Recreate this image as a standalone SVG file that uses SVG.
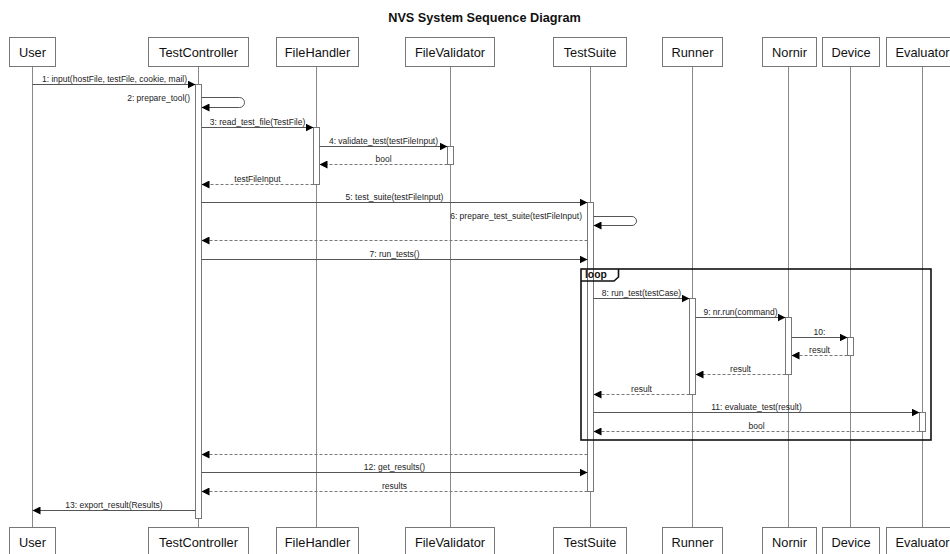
<svg xmlns="http://www.w3.org/2000/svg" width="950" height="554" viewBox="0 0 950 554">
  <style>
    .bg { fill: #ffffff; }
    .title { font-family: "Liberation Sans", Arial, sans-serif; font-size: 12.7px; font-weight: bold; fill: #111; }
    .box { fill: #ffffff; stroke: #777; stroke-width: 1; }
    .pname { font-family: "Liberation Sans", Arial, sans-serif; font-size: 12.8px; fill: #111; text-anchor: middle; }
    .life { stroke: #888; stroke-width: 1; fill: none; }
    .bar { fill: #ffffff; stroke: #777; stroke-width: 1; }
    .msg { stroke: #555; stroke-width: 1; fill: none; marker-end: url(#head); }
    .ret { stroke: #777; stroke-width: 1; fill: none; stroke-dasharray: 3,2; marker-end: url(#head); }
    .lbl { font-family: "Liberation Sans", Arial, sans-serif; font-size: 8.5px; fill: #222; text-anchor: middle; }
    .lbl-end { font-family: "Liberation Sans", Arial, sans-serif; font-size: 8.5px; fill: #222; text-anchor: end; }
    .frame { fill: none; stroke: #111; stroke-width: 1.6; }
    .frame-tag { font-family: "Liberation Sans", Arial, sans-serif; font-size: 10.3px; font-weight: bold; fill: #111; }
  </style>
  <defs>
    <marker id="head" viewBox="0 0 8 8" refX="8" refY="4" markerWidth="8" markerHeight="8" markerUnits="userSpaceOnUse" orient="auto">
      <path d="M0,0 L8,4 L0,8 z" fill="#000"/>
    </marker>
  </defs>

  <rect class="bg" x="0" y="0" width="950" height="554"/>
  <text class="title" x="484.5" y="22" text-anchor="middle">NVS System Sequence Diagram</text>

  <!-- lifelines -->
  <g id="lifelines">
    <line class="life" x1="32.5" y1="66" x2="32.5" y2="527"/>
    <line class="life" x1="198.5" y1="66" x2="198.5" y2="527"/>
    <line class="life" x1="316.5" y1="66" x2="316.5" y2="527"/>
    <line class="life" x1="450.5" y1="66" x2="450.5" y2="527"/>
    <line class="life" x1="590.5" y1="66" x2="590.5" y2="527"/>
    <line class="life" x1="692.5" y1="66" x2="692.5" y2="527"/>
    <line class="life" x1="788.5" y1="66" x2="788.5" y2="527"/>
    <line class="life" x1="850.5" y1="66" x2="850.5" y2="527"/>
    <line class="life" x1="922.5" y1="66" x2="922.5" y2="527"/>
  </g>

  <!-- participants -->
  <g id="user">
    <rect class="box" x="9.5" y="37.5" width="46" height="29"/>
    <text class="pname" x="32.5" y="56.5">User</text>
    <rect class="box" x="9.5" y="527.5" width="46" height="29"/>
    <text class="pname" x="32.5" y="546.5">User</text>
  </g>
  <g id="testcontroller">
    <rect class="box" x="148.5" y="37.5" width="100" height="29"/>
    <text class="pname" x="198.5" y="56.5">TestController</text>
    <rect class="box" x="148.5" y="527.5" width="100" height="29"/>
    <text class="pname" x="198.5" y="546.5">TestController</text>
    <rect class="bar" x="195.5" y="84.5" width="6" height="434"/>
  </g>
  <g id="filehandler">
    <rect class="box" x="276.5" y="37.5" width="82" height="29"/>
    <text class="pname" x="317.5" y="56.5">FileHandler</text>
    <rect class="box" x="276.5" y="527.5" width="82" height="29"/>
    <text class="pname" x="317.5" y="546.5">FileHandler</text>
    <rect class="bar" x="313.5" y="127.5" width="6" height="57"/>
  </g>
  <g id="filevalidator">
    <rect class="box" x="405.5" y="37.5" width="89" height="29"/>
    <text class="pname" x="450" y="56.5">FileValidator</text>
    <rect class="box" x="405.5" y="527.5" width="89" height="29"/>
    <text class="pname" x="450" y="546.5">FileValidator</text>
    <rect class="bar" x="447.5" y="146.5" width="6" height="18"/>
  </g>
  <g id="testsuite">
    <rect class="box" x="553.5" y="37.5" width="73" height="29"/>
    <text class="pname" x="590" y="56.5">TestSuite</text>
    <rect class="box" x="553.5" y="527.5" width="73" height="29"/>
    <text class="pname" x="590" y="546.5">TestSuite</text>
    <rect class="bar" x="587.5" y="202.5" width="6" height="289"/>
  </g>
  <g id="runner">
    <rect class="box" x="662.5" y="37.5" width="60" height="29"/>
    <text class="pname" x="692.5" y="56.5">Runner</text>
    <rect class="box" x="662.5" y="527.5" width="60" height="29"/>
    <text class="pname" x="692.5" y="546.5">Runner</text>
    <rect class="bar" x="689.5" y="298.5" width="6" height="96"/>
  </g>
  <g id="nornir">
    <rect class="box" x="762.5" y="37.5" width="54" height="29"/>
    <text class="pname" x="789.5" y="56.5">Nornir</text>
    <rect class="box" x="762.5" y="527.5" width="54" height="29"/>
    <text class="pname" x="789.5" y="546.5">Nornir</text>
    <rect class="bar" x="785.5" y="317.5" width="6" height="57"/>
  </g>
  <g id="device">
    <rect class="box" x="822.5" y="37.5" width="57" height="29"/>
    <text class="pname" x="851" y="56.5">Device</text>
    <rect class="box" x="822.5" y="527.5" width="57" height="29"/>
    <text class="pname" x="851" y="546.5">Device</text>
    <rect class="bar" x="847.5" y="337.5" width="6" height="18"/>
  </g>
  <g id="evaluator">
    <rect class="box" x="886.5" y="37.5" width="72" height="29"/>
    <text class="pname" x="922.5" y="56.5">Evaluator</text>
    <rect class="box" x="886.5" y="527.5" width="72" height="29"/>
    <text class="pname" x="922.5" y="546.5">Evaluator</text>
    <rect class="bar" x="919.5" y="412.5" width="6" height="19"/>
  </g>

  <!-- loop fragment -->
  <g id="loop-frame">
    <rect class="frame" x="581" y="269" width="350" height="171"/>
    <path class="frame" d="M581,281 H614 L618.5,277 V269"/>
    <text class="frame-tag" x="585" y="277.5">loop</text>
  </g>

  <!-- messages -->
  <g id="connectors">
    <line class="msg" x1="32.5" y1="84.5" x2="195.5" y2="84.5"/>
    <text class="lbl" x="114.5" y="81.5">1: input(hostFile, testFile, cookie, mail)</text>

    <path class="msg" d="M201.5,97.5 H239.5 A5,5 0 0 1 239.5,107.5 H201.5"/>
    <text class="lbl-end" x="190" y="100.5">2: prepare_tool()</text>

    <line class="msg" x1="201.5" y1="127.5" x2="313.5" y2="127.5"/>
    <text class="lbl" x="257.5" y="124.5">3: read_test_file(TestFile)</text>

    <line class="msg" x1="319.5" y1="146.5" x2="447.5" y2="146.5"/>
    <text class="lbl" x="383.5" y="143.5">4: validate_test(testFileInput)</text>

    <line class="ret" x1="447.5" y1="164.5" x2="319.5" y2="164.5"/>
    <text class="lbl" x="383.5" y="161.5">bool</text>

    <line class="ret" x1="313.5" y1="184.5" x2="201.5" y2="184.5"/>
    <text class="lbl" x="257.5" y="181.5">testFileInput</text>

    <line class="msg" x1="201.5" y1="202.5" x2="587.5" y2="202.5"/>
    <text class="lbl" x="394.5" y="199.5">5: test_suite(testFileInput)</text>

    <path class="msg" d="M593.5,216.5 H632 A4.5,4.5 0 0 1 632,225.5 H593.5"/>
    <text class="lbl-end" x="582" y="219">6: prepare_test_suite(testFileInput)</text>

    <line class="ret" x1="587.5" y1="240.5" x2="201.5" y2="240.5"/>

    <line class="msg" x1="201.5" y1="259.5" x2="587.5" y2="259.5"/>
    <text class="lbl" x="394.5" y="256.5">7: run_tests()</text>

    <line class="msg" x1="593.5" y1="298.5" x2="689.5" y2="298.5"/>
    <text class="lbl" x="641.5" y="295.5">8: run_test(testCase)</text>

    <line class="msg" x1="695.5" y1="317.5" x2="785.5" y2="317.5"/>
    <text class="lbl" x="740.5" y="314.5">9: nr.run(command)</text>

    <line class="msg" x1="791.5" y1="337.5" x2="847.5" y2="337.5"/>
    <text class="lbl" x="819.5" y="334.5">10:</text>

    <line class="ret" x1="847.5" y1="355.5" x2="791.5" y2="355.5"/>
    <text class="lbl" x="819.5" y="352.5">result</text>

    <line class="ret" x1="785.5" y1="374.5" x2="695.5" y2="374.5"/>
    <text class="lbl" x="740.5" y="371.5">result</text>

    <line class="ret" x1="689.5" y1="394.5" x2="593.5" y2="394.5"/>
    <text class="lbl" x="641.5" y="391.5">result</text>

    <line class="msg" x1="593.5" y1="412.5" x2="919.5" y2="412.5"/>
    <text class="lbl" x="756.5" y="409.5">11: evaluate_test(result)</text>

    <line class="ret" x1="919.5" y1="431.5" x2="593.5" y2="431.5"/>
    <text class="lbl" x="756.5" y="428.5">bool</text>

    <line class="ret" x1="587.5" y1="454.5" x2="201.5" y2="454.5"/>

    <line class="msg" x1="201.5" y1="472.5" x2="587.5" y2="472.5"/>
    <text class="lbl" x="394.5" y="469.5">12: get_results()</text>

    <line class="ret" x1="587.5" y1="491.5" x2="201.5" y2="491.5"/>
    <text class="lbl" x="394.5" y="488.5">results</text>

    <line class="msg" x1="195.5" y1="510.5" x2="32.5" y2="510.5"/>
    <text class="lbl" x="114" y="507.5">13: export_result(Results)</text>
  </g>
</svg>
